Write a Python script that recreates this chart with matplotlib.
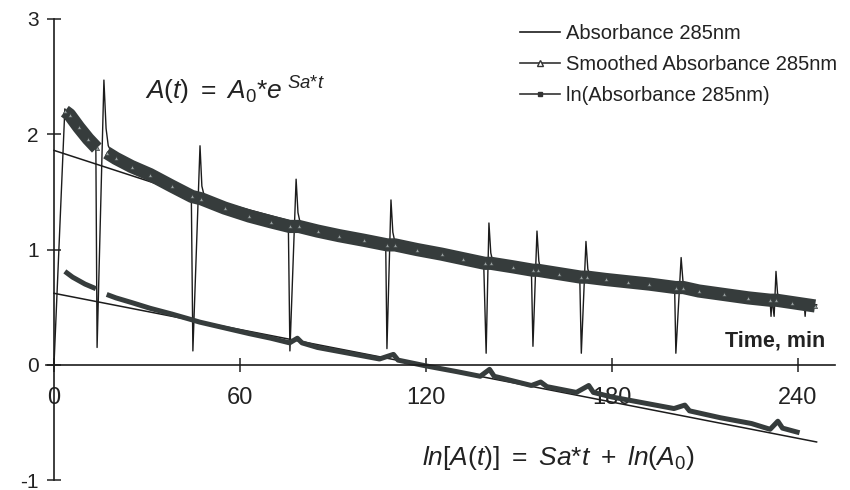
import numpy as np
import matplotlib
matplotlib.use('Agg')
import matplotlib.pyplot as plt
from matplotlib.lines import Line2D

plt.rcParams['font.family'] = ['Liberation Sans', 'DejaVu Sans']
plt.rcParams['mathtext.fontset'] = 'custom'
plt.rcParams['mathtext.rm'] = 'Liberation Sans'
plt.rcParams['mathtext.it'] = 'Liberation Sans:italic'
plt.rcParams['mathtext.bf'] = 'Liberation Sans:bold'

# ---------------- data ----------------
# raw absorbance (with injection spikes)
raw_t = [0, 3.5, 6, 10, 13.5, 13.9, 16.1, 16.8, 17.5, 19, 25, 31, 38, 44.3, 44.8, 47.1, 47.7, 48.5,
         55, 63, 70, 75.6, 76.1, 78.1, 78.7, 79.5, 85, 95, 107, 107.4, 108.7, 109.3, 110,
         120, 130, 138.6, 139.4, 140.3, 140.9, 141.6, 150, 154, 154.5, 155.8, 156.4, 157,
         165, 169.6, 170.1, 171.6, 172.2, 173, 180, 190, 200.2, 200.6, 202.3, 202.9, 203.6,
         210, 220, 231.0, 231.3, 231.6, 232.3, 232.9, 233.4, 234, 238, 242, 242.3, 242.6, 245.5]
raw_a = [0.0, 2.22, 2.12, 1.98, 1.88, 0.15, 2.47, 2.05, 1.90, 1.82, 1.72, 1.65, 1.55, 1.46, 0.12, 1.90, 1.55, 1.46,
         1.36, 1.29, 1.24, 1.20, 0.12, 1.61, 1.32, 1.22, 1.17, 1.11, 1.05, 0.14, 1.43, 1.15, 1.06,
         0.99, 0.93, 0.89, 0.10, 1.23, 0.97, 0.89, 0.84, 0.82, 0.16, 1.16, 0.90, 0.82,
         0.78, 0.76, 0.10, 1.07, 0.83, 0.76, 0.74, 0.70, 0.67, 0.10, 0.93, 0.72, 0.67,
         0.65, 0.61, 0.57, 0.42, 0.57, 0.42, 0.81, 0.62, 0.57, 0.55, 0.53, 0.42, 0.53, 0.51]

# smoothed absorbance (nan = gap)
sm_t = [3.5, 5, 8, 11, 13.8, 15.5, 17, 20, 25, 31, 38, 44.5, 47.5, 55, 63, 70, 76, 79, 85, 92, 100,
        107.5, 110, 117, 125, 132, 139, 141, 148, 154.5, 156, 163, 170, 172, 178, 185, 192,
        200.5, 203, 208, 216, 224, 231, 233, 238, 245.5]
sm_a = [2.20, 2.17, 2.06, 1.96, 1.88, np.nan, 1.84, 1.79, 1.72, 1.65, 1.55, 1.46, 1.44, 1.36, 1.29, 1.24, 1.20, 1.20,
        1.16, 1.12, 1.08, 1.04, 1.04, 1.00, 0.96, 0.92, 0.88, 0.88, 0.85, 0.82, 0.82, 0.79, 0.76, 0.76,
        0.74, 0.72, 0.70, 0.67, 0.67, 0.64, 0.61, 0.58, 0.56, 0.56, 0.54, 0.51]

# ln(absorbance)
ln_t = [3.5, 6, 10, 13.5, 15.5, 17, 20, 25, 31, 38, 44.5, 47, 55, 63, 70, 76, 78.5, 80, 85, 95, 105,
        109.5, 111, 120, 130, 137.5, 140.5, 142, 148, 154, 157, 159, 168.5, 172.5, 174, 180, 190,
        200, 203.5, 205, 215, 225, 231, 233.5, 235, 240.5]
ln_a = [0.81, 0.76, 0.70, 0.66, np.nan, 0.61, 0.58, 0.54, 0.49, 0.44, 0.39, 0.37, 0.32, 0.27, 0.23, 0.19, 0.23, 0.19,
        0.15, 0.10, 0.05, 0.09, 0.04, -0.01, -0.06, -0.10, -0.04, -0.10, -0.14, -0.18, -0.15, -0.19,
        -0.24, -0.18, -0.24, -0.28, -0.33, -0.38, -0.35, -0.40, -0.46, -0.51, -0.56, -0.49, -0.55, -0.59]

# fitted curves
fit_t = [0, 40, 80, 120, 160, 200, 246]
fit_a = [1.86, 1.51, 1.22, 0.99, 0.81, 0.66, 0.52]
lnfit_t = [0, 246]
lnfit_a = [0.62, -0.67]

x_ticks = [0, 60, 120, 180, 240]
y_ticks = [-1, 0, 1, 2, 3]
labels = ['Absorbance 285nm', 'Smoothed Absorbance 285nm', 'ln(Absorbance 285nm)']

# ---------------- drawing ----------------
band = '#363c3c'
ink = '#1c1c1c'
txt = '#222222'

fig = plt.figure(figsize=(8.5, 4.9), dpi=100)
ax = fig.add_axes([46.25 / 850, 10 / 490, 788.95 / 850, 461 / 490])
ax.set_xlim(-2.5, 252)
ax.set_ylim(-1, 3)

ax.plot(fit_t, fit_a, color=ink, lw=1.1, zorder=2)
ax.plot(lnfit_t, lnfit_a, color=ink, lw=1.1, zorder=2)
ax.plot(raw_t, raw_a, color=ink, lw=1.0, zorder=2.5)
ax.plot(sm_t, sm_a, color=band, lw=9.5, solid_capstyle='butt', zorder=3)
ax.plot(sm_t, sm_a, ls='none', marker='^', ms=3, mfc='#9aa2a2', mec=band, mew=0.5, zorder=3)
ax.plot(ln_t, ln_a, color=band, lw=3.6, solid_capstyle='butt', zorder=3)

for s in ['top', 'right']:
    ax.spines[s].set_visible(False)
ax.spines['left'].set_position(('data', 0))
ax.spines['bottom'].set_position(('data', 0))
for s in ['left', 'bottom']:
    ax.spines[s].set_linewidth(1.2)
    ax.spines[s].set_color(ink)
    ax.spines[s].set_zorder(5)

ax.set_xticks(x_ticks)
ax.set_yticks(y_ticks)
ax.set_xticklabels([str(v) for v in x_ticks])
ax.set_yticklabels([str(v) for v in y_ticks])
ax.tick_params(axis='x', direction='inout', length=10, width=1.1, pad=11, labelsize=17, colors=txt)
ax.tick_params(axis='y', direction='inout', length=10, width=1.1, pad=6, labelsize=15, colors=txt)

handles = [Line2D([], [], color=ink, lw=1.2),
           Line2D([], [], color='#333333', lw=1.2, marker='^', ms=5, mfc='white', mec='#333333'),
           Line2D([], [], color='#333333', lw=1.2, marker='s', ms=2.5, mfc='#333333', mec='#333333')]
fig.legend(handles, labels, loc='upper left', bbox_to_anchor=(520 / 850, 1 - 24 / 490),
           frameon=False, fontsize=14.5, handlelength=2.0, handletextpad=0.3,
           labelspacing=0.6, borderpad=0, borderaxespad=0, labelcolor=txt)

fig.text(825 / 850, 1 - 341 / 490, 'Time, min', ha='right', va='center',
         fontsize=15.5, fontweight='bold', color=txt)
fig.text(145 / 850, 1 - 100 / 490, r'$A(t)\ =\ A_{0}{*}e^{\ Sa{*}t}$', fontsize=19,
         va='baseline', ha='left', color=txt)
fig.text(422 / 850, 1 - 465 / 490, r'$ln[A(t)]\ =\ Sa{*}t\ +\ ln(A_{0})$', fontsize=19,
         va='baseline', ha='left', color=txt)

fig.savefig('out.png', dpi=100)
